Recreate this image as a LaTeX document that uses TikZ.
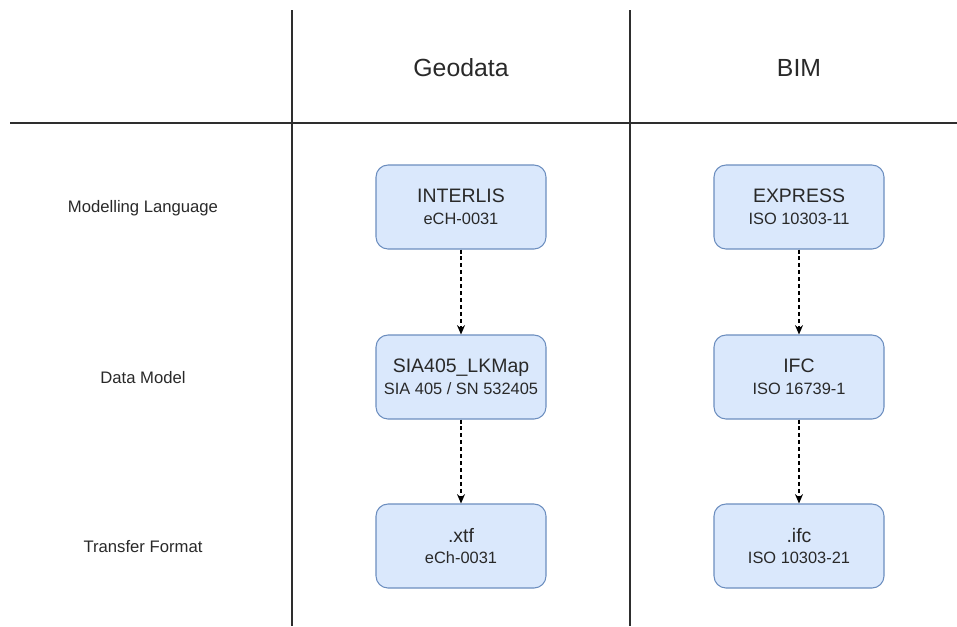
\documentclass[tikz,border=0pt]{standalone}
\usepackage{fontspec}
\setmainfont{Liberation Sans}
\usetikzlibrary{arrows.meta}
\definecolor{boxfill}{HTML}{DAE8FC}
\definecolor{boxline}{HTML}{6C8EBF}
\definecolor{ink}{HTML}{333333}
\begin{document}
\begin{tikzpicture}[x=0.75pt,y=-0.75pt,
  gridline/.style={draw=ink!90!black,line width=1.3pt},
  itembox/.style={draw=boxline,fill=boxfill,rounded corners=9pt,line width=0.8pt,
    minimum width=127.5pt,minimum height=63pt,align=center,text=ink!80!black,
    inner sep=0pt,font=\fontsize{12.3}{16.3}\selectfont},
  rowlabel/.style={text=ink!80!black,font=\fontsize{12.5}{14}\selectfont},
  colhead/.style={text=ink!80!black,font=\fontsize{18.6}{22}\selectfont},
  flow/.style={draw=black,line width=0.9pt,dash pattern=on 3pt off 2.2pt,
    -{Stealth[length=7pt,width=6pt]}}]
\useasboundingbox (0,0) rectangle (957,626);
% table grid
\coordinate (h1) at (10,123);
\coordinate (h2) at (957,123);
\coordinate (v1t) at (292,10);
\coordinate (v1b) at (292,626);
\coordinate (v2t) at (630,10);
\coordinate (v2b) at (630,626);
\draw[gridline] (h1) -- (h2);
\draw[gridline] (v1t) -- (v1b);
\draw[gridline] (v2t) -- (v2b);
% column headings
\node[colhead] (geo) at (461,68) {Geodata};
\node[colhead] (bim) at (799,68) {BIM};
% row headings
\node[rowlabel] (lang) at (143,208) {Modelling Language};
\node[rowlabel] (model) at (143,378) {Data Model};
\node[rowlabel] (fmt) at (143,547) {Transfer Format};
% entries: a name over its standard
\newcommand{\entry}[2]{{\fontsize{14.6}{16.3}\selectfont #1}\\#2}
\node[itembox] (interlis) at (461,207) {\entry{INTERLIS}{eCH-0031}};
\node[itembox] (lkmap) at (461,377) {\entry{SIA405\_LKMap}{SIA 405 / SN 532405}};
\node[itembox] (xtf) at (461,546) {\entry{.xtf}{eCh-0031}};
\node[itembox] (express) at (799,207) {\entry{EXPRESS}{ISO 10303-11}};
\node[itembox] (ifc) at (799,377) {\entry{IFC}{ISO 16739-1}};
\node[itembox] (ifcfile) at (799,546) {\entry{.ifc}{ISO 10303-21}};
% dependencies
\draw[flow] (interlis) -- (lkmap);
\draw[flow] (lkmap) -- (xtf);
\draw[flow] (express) -- (ifc);
\draw[flow] (ifc) -- (ifcfile);
\end{tikzpicture}
\end{document}
